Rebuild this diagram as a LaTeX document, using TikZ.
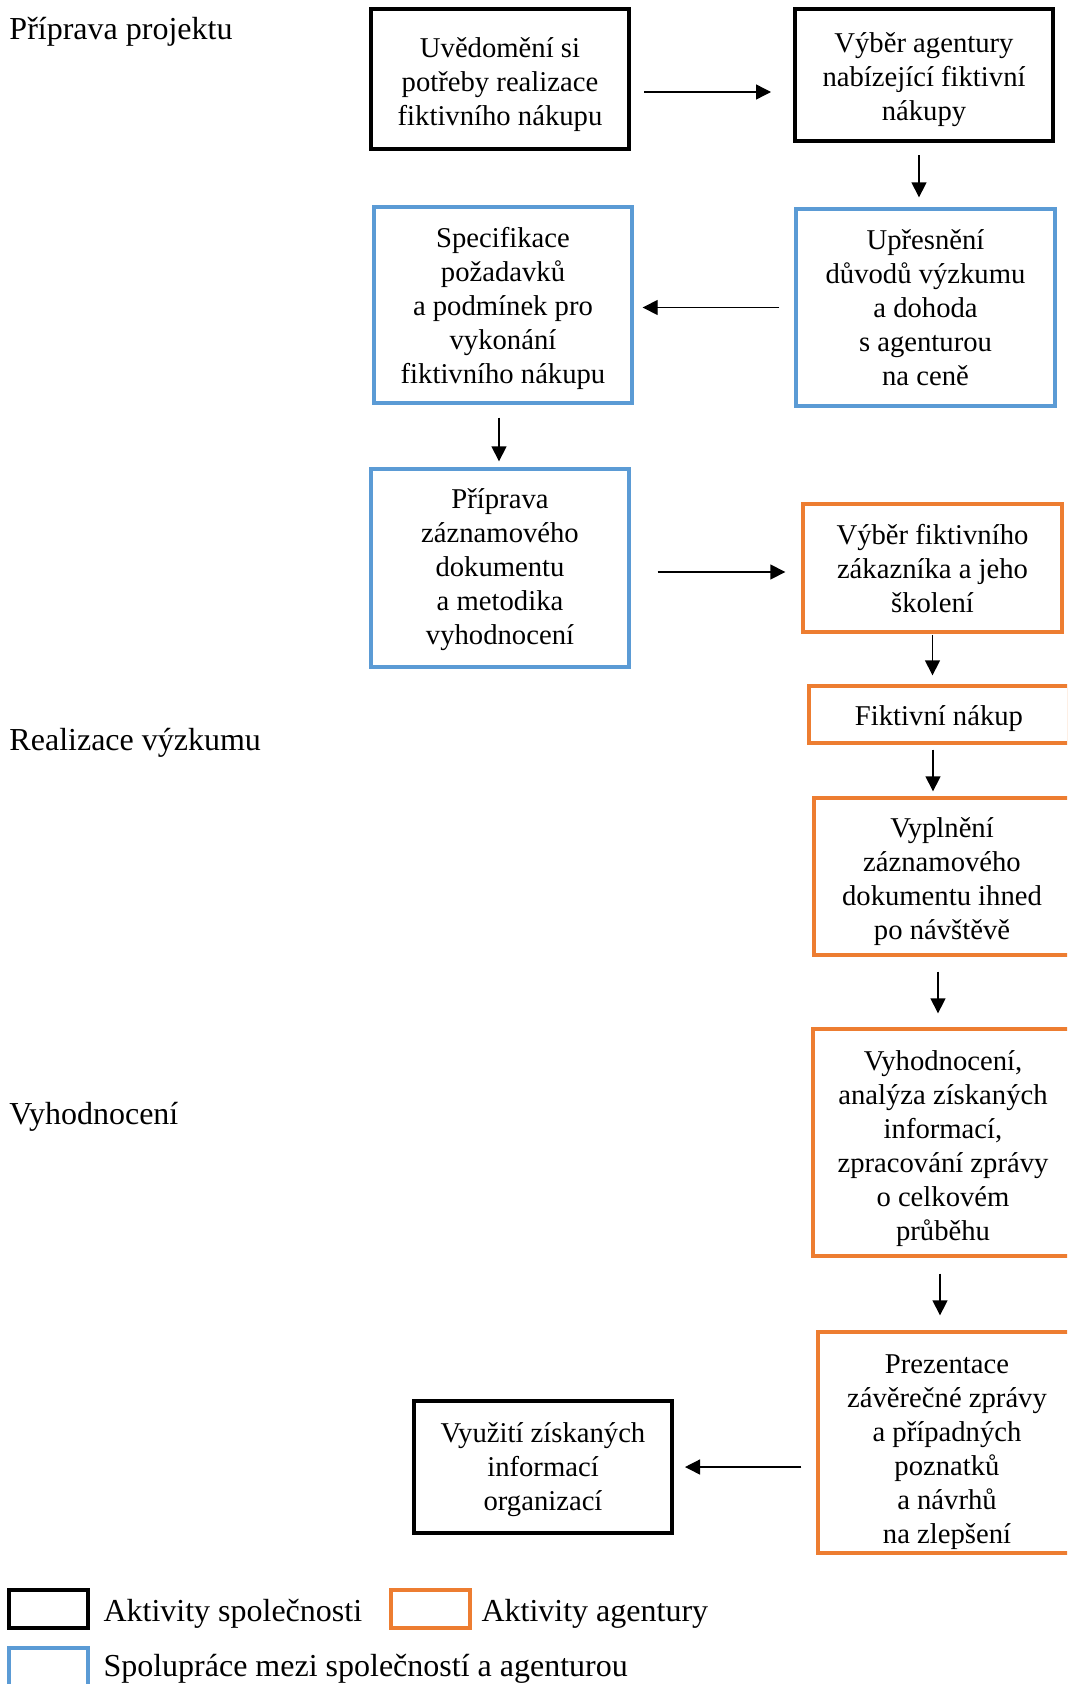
\documentclass[tikz,border=0pt]{standalone}
\usepackage{fontspec}
\setmainfont{Liberation Serif}
\usetikzlibrary{arrows.meta}
\definecolor{modra}{RGB}{91,155,213}
\definecolor{oranzova}{RGB}{237,125,49}
\newcommand{\vrch}[1]{\rule{0pt}{#1pt}}
\tikzset{every picture/.style={line width=0.75pt},
  krok/.style={draw, align=center, inner sep=2pt, font=\fontsize{21.5}{25.5}\selectfont},
  spolecnost/.style={krok, line width=3pt},
  spoluprace/.style={krok, draw=modra, line width=2.5pt},
  agentura/.style={krok, draw=oranzova, line width=2.5pt},
  faze/.style={anchor=west, inner sep=0pt, font=\fontsize{24}{29}\selectfont},
  sipka/.style={-{Triangle[length=11.25pt,width=11.25pt]}, line width=1pt}}

\begin{document}
\begin{tikzpicture}[x=0.75pt,y=0.75pt,yscale=-1,xscale=1]
\clip (0,0) rectangle (1067,1684); %page 1067 x 1684

% Text Node
\node [faze] (fpriprava) at (9,32) {Příprava projektu};
% Text Node
\node [faze] (frealizace) at (9,743) {Realizace výzkumu};
% Text Node
\node [faze] (fvyhodnoceni) at (9,1117) {Vyhodnocení};

%Shape: Rectangle [id:uved]
\node [spolecnost, minimum width=193.5pt, minimum height=105pt] (uved) at (500,79) {\vrch{22.7}Uvědomění si\\potřeby realizace\\fiktivního nákupu};
%Shape: Rectangle [id:vyber]
\node [spolecnost, minimum width=193.5pt, minimum height=99pt] (vyber) at (924,75) {\vrch{22.3}Výběr agentury\\nabízející fiktivní\\nákupy};
%Shape: Rectangle [id:upres]
\node [spoluprace, minimum width=194.25pt, minimum height=147.75pt] (upres) at (925.5,307.5) {Upřesnění\\důvodů výzkumu\\a dohoda\\s agenturou\\na ceně};
%Shape: Rectangle [id:spec]
\node [spoluprace, minimum width=193.5pt, minimum height=147pt] (spec) at (503,305) {\vrch{20.3}Specifikace\\požadavků\\a podmínek pro\\vykonání\\fiktivního nákupu};
%Shape: Rectangle [id:prip]
\node [spoluprace, minimum width=193.5pt, minimum height=148.5pt] (prip) at (500,568) {\vrch{17.9}Příprava\\záznamového\\dokumentu\\a metodika\\vyhodnocení};
%Shape: Rectangle [id:zakaznik]
\node [agentura, minimum width=194.25pt, minimum height=96pt] (zakaznik) at (932.5,568) {\vrch{16.3}Výběr fiktivního\\zákazníka a jeho\\školení};
%Shape: Rectangle [id:nakup]
\node [agentura, minimum width=195pt, minimum height=42.75pt] (nakup) at (939,714.5) {\vrch{21.1}Fiktivní nákup};
%Shape: Rectangle [id:vypl]
\node [agentura, minimum width=192pt, minimum height=117.75pt] (vypl) at (942,876.5) {\vrch{22.7}Vyplnění\\záznamového\\dokumentu ihned\\po návštěvě};
%Shape: Rectangle [id:vyhod]
\node [agentura, minimum width=195pt, minimum height=170.25pt] (vyhod) at (943,1142.5) {\vrch{23.5}Vyhodnocení,\\analýza získaných\\informací,\\zpracování zprávy\\o celkovém\\průběhu};
%Shape: Rectangle [id:prez]
\node [agentura, minimum width=193.5pt, minimum height=165.75pt] (prez) at (947,1442.5) {\vrch{28.3}Prezentace\\závěrečné zprávy\\a případných\\poznatků\\a návrhů\\na zlepšení};
%Shape: Rectangle [id:vyuz]
\node [spolecnost, minimum width=193.5pt, minimum height=99pt] (vyuz) at (543,1467) {\vrch{19.5}Využití získaných\\informací\\organizací};

%Straight Lines [id:sipky]
\draw [sipka, shorten <=9.75pt, shorten >=16.5pt] ([yshift=9.75pt]uved.east) -- ([yshift=9.75pt]uved.east -| vyber.west);
\draw [sipka, shorten <=9pt, shorten >=7.5pt] ([xshift=-3.75pt]vyber.south) -- ([xshift=-3.75pt]vyber.south |- upres.north);
\draw [sipka, shorten <=11.25pt, shorten >=6.75pt] (upres.west) -- (upres.west -| spec.east);
\draw [sipka, shorten <=9.75pt, shorten >=4.5pt] ([xshift=-3pt]spec.south) -- ([xshift=-3pt]spec.south |- prip.north);
\draw [sipka, shorten <=20.25pt, shorten >=12pt] ([yshift=3pt]prip.east) -- ([yshift=3pt]prip.east -| zakaznik.west);
\draw [sipka, shorten <=0.75pt, shorten >=6.75pt] (zakaznik.south) -- (zakaznik.south |- nakup.north);
\draw [sipka, shorten <=3.75pt, shorten >=3.75pt] ([xshift=-4.5pt]nakup.south) -- ([xshift=-4.5pt]nakup.south |- vypl.north);
\draw [sipka, shorten <=11.25pt, shorten >=10.5pt] ([xshift=-3pt]vypl.south) -- ([xshift=-3pt]vypl.south |- vyhod.north);
\draw [sipka, shorten <=12pt, shorten >=11.25pt] ([xshift=-2.25pt]vyhod.south) -- ([xshift=-2.25pt]vyhod.south |- prez.north);
\draw [sipka, shorten <=11.25pt, shorten >=8.25pt] (prez.west |- vyuz.east) -- (vyuz.east);

%Shape: Legend
\node [spolecnost, minimum width=59.25pt, minimum height=28.5pt] (lspolecnost) at (48.5,1609) {};
\node [faze] (tspolecnost) at (103,1614) {Aktivity společnosti};
\node [agentura, minimum width=59.25pt, minimum height=28.5pt] (lagentura) at (430.5,1609) {};
\node [faze] (tagentura) at (481,1614) {Aktivity agentury};
\node [spoluprace, minimum width=59.25pt, minimum height=31.5pt] (lspoluprace) at (48.5,1669) {};
\node [faze] (tspoluprace) at (103,1669) {Spolupráce mezi společností a agenturou};

\end{tikzpicture}
\end{document}
